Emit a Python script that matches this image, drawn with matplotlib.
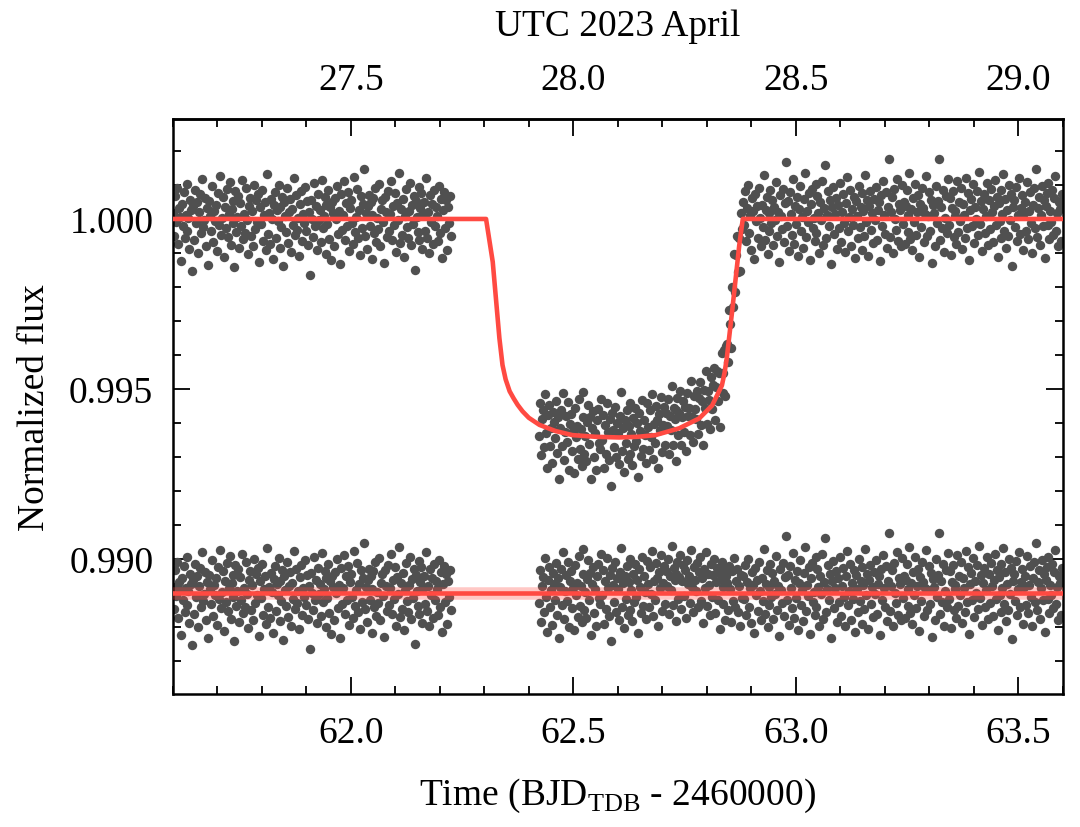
import numpy as np
import matplotlib
matplotlib.use('Agg')
import matplotlib.pyplot as plt
from matplotlib.ticker import MultipleLocator, FixedLocator, FormatStrFormatter

plt.rcParams['font.family'] = ['Liberation Serif', 'DejaVu Serif']
plt.rcParams['mathtext.fontset'] = 'custom'
plt.rcParams['mathtext.rm'] = 'Liberation Serif'
plt.rcParams['font.size'] = 27

# --- data (flux values in units of 1e-5, relative) ---
cadence = 0.0022          # days between exposures
pre_start = 61.600        # first exposure before the gap
in_start = 62.424         # first exposure after the gap
utc_offset = 34.5         # BJD-2460000 minus UTC April day
resid_level = 0.989       # where residuals are drawn

# residuals, pre-transit segment
resid_pre = [
    17, -49, 67, -10, 92, -73, 32, 7, -123, 43, -20, 80, -57, 13, 104,
    -36, 4, -88, 56, 25, -154, 38, -63, 85, -13, 49, -101, 20, 73, -42,
    119, -25, -4, 62, -80, 31, -134, 53, 10, -34, 97, -67, 22, -7, 42,
    -94, 77, -17, 127, -46, 3, 64, -112, 35, -27, 88, -53, 15, 109, -76,
    28, -11, 52, -141, 81, -38, 6, 69, -85, 46, -21, 115, -60, 14, -41,
    90, -3, -104, 39, 63, -50, 24, -81, 99, -29, 55, -8, 74, -126, 34,
    -15, 84, -66, 11, 49, -92, 132, -43, 18, -73, 59, 1, -118, 41, 78,
    -55, 27, -6, 101, -84, 36, -24, 66, -139, 50, 8, -39, 91, -70, 21,
    60, -98, 29, -18, 122, -48, 70, -31, 4, -108, 45, 83, -64, 15, -11,
    95, -35, 53, -77, 20, -165, 57, 0, -52, 105, -22, 38, -90, 73, -4,
    27, -69, 116, -28, 10, 64, -102, 42, -14, 85, -59, 34, -122, 50, 17,
    -81, 62, -1, 98, -45, 22, -133, 74, -32, 13, 111, -63, 48, -20, 80,
    -95, 31, 56, -13, -74, 123, -38, 7, 87, -57, 25, -106, 67, -27, 43,
    146, -49, 18, -87, 38, 71, -22, 50, -118, 11, 63, -42, 92, -67, 3,
    -29, 102, -80, 28, 55, -10, -130, 66, 21, -53, 81, -36, 14, 113, -62,
    39, -17, 76, -97, 46, -4, 136, -71, 29, -48, 59, -111, 8, 88, -25,
    -56, 24, 106, -78, 41, -15, 69, -150, 53, 6, -39, 94, -63, 32, 77,
    -88, 15, 49, -34, 120, -55, 20, -99, 70, -8, 43, -73, 84, -21, 36,
    10, -66, 97, -42, 60, -115, 25, 80, -28, 55, -91, 34, -13, 67, -50,
]

# residuals, in-transit part
resid_in = [
    -31, 67, -85, 21, 46, -56, 101, -13, -116, 38, 76, -43, 8, -95, 57, 27,
    -20, 88, -66, 42, -134, 17, 70, -35, 119, -78, 4, 52, -25, 92, -101, 34,
    63, -46, 13, -111, 81, -6, 29, -70, 108, -39, 20, -87, 55, 129, -52, 1,
    -74, 41, 95, -22, 59, -123, 25, 77, -60, 10, -98, 48, 84, -15, -34, 113,
    -8, 66, -91, 36, -49, 102, 15, -67, 53, -143, 73, 22, -28, 90, -57, 42,
    11, -80, 62, 133, -41, 28, -104, 50, -18, 80, -64, 32, 98, -50, 7, -84,
    56, -27, 85, -11, 39, -119, 69, 17, -59, 106, -38, 49, 3, -77, 94, 25,
    -43, 76, -4, 123, -69, 35, -21, 87, 42, -99, 60, 14, 111, -53, 29, 80,
    -32, 64, 20, 99, -63, 49, 8, 137, -36, 73, 39, -84, 56, 91, -17, 46,
    112, -48, 34, 81, -10, 66, -73, 97, 27, 50, -29, 126, 18, -56, 77, 38,
    6, 87, -42, 62, 106, -24, 43, -90, 70, 13, 119, -39, 55, 22, -66, 84,
    -13, 52, 98, -60, 31, 74, -21, 57, -108, 41, 92, -34, 17, 67, -81, 48,
    29, -50, 80, 11, -87, 63, -25, 102, -42, 36, 71, -57, 21, -97, 53, -15,
]

# measured flux, in-transit part
flux_in = [
    -640, -542, -694, -588, -563, -672, -515, -629, -732, -578, -548, -667, -616, -719, -567, -597,
    -644, -536, -690, -582, -766, -615, -562, -667, -513, -710, -628, -580, -657, -540, -738, -603,
    -574, -683, -624, -748, -556, -643, -608, -707, -531, -678, -619, -726, -584, -510, -691, -638,
    -713, -598, -546, -663, -582, -764, -616, -564, -701, -631, -739, -593, -559, -658, -677, -530,
    -651, -577, -734, -607, -692, -541, -628, -710, -590, -786, -570, -621, -671, -553, -700, -601,
    -631, -722, -580, -509, -683, -614, -746, -592, -660, -562, -705, -609, -543, -691, -634, -725,
    -585, -668, -556, -652, -601, -759, -571, -623, -699, -534, -678, -591, -637, -717, -543, -612,
    -680, -561, -641, -514, -706, -602, -658, -550, -592, -733, -574, -620, -523, -687, -605, -554,
    -666, -570, -608, -529, -691, -579, -620, -491, -664, -555, -589, -712, -562, -527, -635, -572,
    -506, -666, -584, -537, -628, -552, -684, -513, -581, -557, -635, -478, -584, -656, -521, -558,
    -588, -505, -632, -526, -479, -606, -536, -666, -503, -557, -448, -603, -505, -534, -619, -465,
    -558, -489, -438, -591, -495, -446, -536, -453, -612, -454, -394, -512, -453, -387, -520, -375,
    -369, -422, -267, -309, -379, -201, -260, -102, -215, -107, -50, -156, -56, -153, 17, -30,
]

# residuals, post-transit segment
resid_post = [
    49, -17, 81, -66, 31, 99, -42, 13, -90, 62, 22, -119, 74, -7, 39,
    -55, 92, 4, -81, 42, -24, 129, -62, 27, 66, -102, 17, -36, 84, -11,
    57, -77, 35, -3, 109, -50, 20, -127, 70, 8, -29, 88, -69, 46, 168,
    -21, 53, -95, 80, 14, -46, 118, -73, 38, -15, 64, -109, 28, 97, -35,
    7, -84, 59, 134, -53, 24, -10, 77, -122, 43, 87, -27, 3, -64, 104,
    -41, 69, 18, -99, 50, -4, 113, -76, 32, 160, -57, 11, 81, -22, 55,
    -133, 36, 94, -45, 15, 63, -87, 42, -28, 106, -67, 21, 73, -13, -98,
    48, 123, -36, 6, 85, -80, 29, -18, 66, -116, 52, 10, -56, 98, -25,
    34, -92, 77, 22, -49, 130, -8, 56, -108, 39, 83, -32, 17, -71, 60,
    -3, 95, -62, 27, 49, -125, 70, -20, 111, 13, -43, 78, -84, 35, 175,
    -53, 20, 66, -99, 88, 0, -31, 119, -66, 43, 25, -81, 101, -14, 50,
    -74, 38, 84, -39, 11, 136, -59, 28, -91, 62, -8, 104, -46, 21, 71,
    -112, 45, -24, 90, 32, -69, 15, 125, -50, 8, 80, -34, 57, -129, 41,
    18, -80, 98, -11, 53, 175, -63, 36, -27, 85, -97, 4, 67, -42, 118,
    -17, 63, -105, 31, 83, -52, 24, 10, -73, 112, -38, 49, -6, 92, -88,
    43, 13, -57, 122, -28, 76, -120, 25, 59, -21, 102, -70, 35, -1, 81,
    -48, 139, -14, 52, -94, 28, 73, -41, 8, 106, -78, 55, -29, 88, 20,
    -67, 39, 115, -18, 66, -111, 46, -7, 84, -56, 14, 132, -34, 60, -84,
    27, -50, 99, -3, 74, -137, 35, 56, -25, 94, -64, 11, 120, -43, 31,
    70, -91, 17, 49, -36, 109, -60, 22, 80, -13, -99, 42, 90, -28, 146,
    -52, 32, 66, -77, 13, 97, -22, 55, -115, 39, 77, -17, 105, -59, 24,
    -8, 85, -46, 62, 126, -34, 18, -81, 50, 28, -66, 73,
]

# best-fit transit model
model_t = [61.600, 62.304, 62.319, 62.334, 62.341, 62.348, 62.357, 62.366, 62.375,
           62.386, 62.400, 62.424, 62.460, 62.498, 62.550, 62.603, 62.645, 62.685,
           62.738, 62.783, 62.812, 62.825, 62.834, 62.840, 62.845, 62.857, 62.873,
           62.881, 63.600]
model_f = [1.00000, 1.00000, 0.99874, 0.99649, 0.99570, 0.99528, 0.99493, 0.99472, 0.99453,
           0.99434, 0.99415, 0.99394, 0.99376, 0.99364, 0.99359, 0.99357, 0.99359, 0.99364,
           0.99384, 0.99413, 0.99451, 0.99486, 0.99510, 0.99547, 0.99590, 0.99728, 0.99922,
           1.00000, 1.00000]

bottom_ticks = [62.0, 62.5, 63.0, 63.5]
top_ticks = [27.5, 28.0, 28.5, 29.0]

# --- assemble ---
scale = 1e-5
t_pre = pre_start + cadence * np.arange(len(resid_pre))
t_seg2 = in_start + cadence * np.arange(len(flux_in) + len(resid_post))
t_all = np.concatenate([t_pre, t_seg2])

flux_all = 1.0 + scale * np.concatenate([resid_pre, flux_in, resid_post])
resid_all = resid_level + scale * np.concatenate([resid_pre, resid_in, resid_post])

pt_color = '#505050'
red = '#ff4a42'

fig = plt.figure(figsize=(10.8, 8.28), dpi=100)
ax = fig.add_axes([0.160, 0.161, 0.824, 0.694])

ax.scatter(t_all, flux_all, s=46, c=pt_color, linewidths=0, zorder=2)
ax.scatter(t_all, resid_all, s=46, c=pt_color, linewidths=0, zorder=2)

ax.plot(model_t, model_f, color=red, lw=3.3, zorder=3)
ax.plot([model_t[0], model_t[-1]], [resid_level, resid_level], color=red, lw=9, alpha=0.3, zorder=3)
ax.plot([model_t[0], model_t[-1]], [resid_level, resid_level], color=red, lw=3.3, zorder=4)

ax.set_xlim(61.6, 63.6)
ax.set_ylim(0.98603, 1.00294)

ax.xaxis.set_major_locator(FixedLocator(bottom_ticks))
ax.xaxis.set_minor_locator(MultipleLocator(0.1))
ax.xaxis.set_major_formatter(FormatStrFormatter('%.1f'))
ax.yaxis.set_major_locator(MultipleLocator(0.005))
ax.yaxis.set_minor_locator(MultipleLocator(0.001))
ax.yaxis.set_major_formatter(FormatStrFormatter('%.3f'))

ax.tick_params(which='both', direction='in', top=False, right=True, width=1.3)
ax.tick_params(which='major', length=12)
ax.tick_params(which='minor', length=6)
ax.tick_params(axis='x', pad=16)
ax.tick_params(axis='y', pad=14)
for sp in ax.spines.values():
    sp.set_linewidth(1.8)

# top axis in UTC days of April
top = ax.secondary_xaxis('top', functions=(lambda x: x - utc_offset, lambda x: x + utc_offset))
top.xaxis.set_major_locator(FixedLocator(top_ticks))
top.xaxis.set_minor_locator(MultipleLocator(0.1))
top.xaxis.set_major_formatter(FormatStrFormatter('%.1f'))
top.tick_params(which='both', direction='in', width=1.3, pad=16)
top.tick_params(which='major', length=12)
top.tick_params(which='minor', length=6)
top.spines['top'].set_linewidth(1.8)
top.set_xlabel('UTC 2023 April', labelpad=20)

ax.set_xlabel(r'Time (BJD$_{\rm TDB}$ - 2460000)', labelpad=18)
ax.set_ylabel('Normalized flux', labelpad=12)

fig.savefig('out.png', dpi=100)
